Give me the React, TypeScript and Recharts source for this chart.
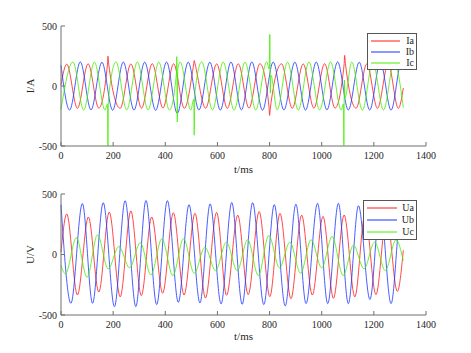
import { LineChart, Line, XAxis, YAxis, Legend } from 'recharts'

const FONT = "'Liberation Serif', 'Times New Roman', serif"
const AXIS = '#6e6e6e'
const TEXT = '#262626'

const RED = '#ff1a1a'
const BLUE = '#1a33ff'
const GREEN = '#44ee00'

// both panels share the same time axis (ms) and the same value ticks
const tTicks = [0, 200, 400, 600, 800, 1000, 1200, 1400]
const yTicks = [-500, 0, 500]

// upper panel, phase currents in A: turning points, plus the spikes
const iaT = [0, 22, 63, 104, 145, 178, 180, 183, 227, 268, 309, 350, 391, 432, 473, 509, 511, 514, 555, 597, 638, 680, 721, 763, 798, 800, 803, 846, 887, 929, 970, 1011, 1051, 1086, 1088, 1091, 1132, 1173, 1214, 1255, 1294, 1313]
const iaV = [10, 182, -186, 185, -184, 176, 248, 182, -186, 184, -185, 186, -184, 185, -186, 184, 212, 186, -185, 184, -186, 185, -184, 186, -178, -245, -184, 185, -186, 184, -185, 186, -184, 182, 255, 186, -185, 184, -186, 185, -186, -17]

const ibT = [0, 33, 74, 115, 157, 198, 239, 280, 321, 363, 405, 446, 488, 529, 571, 611, 652, 692, 732, 773, 814, 855, 897, 938, 979, 1020, 1061, 1102, 1144, 1184, 1225, 1266, 1306, 1313]
const ibV = [172, -200, 201, -199, 198, -202, 200, -201, 199, -203, 200, -228, 199, -200, 198, -201, 200, -199, 201, -202, 200, -200, 199, -201, 200, -199, 201, -200, 198, -200, 200, -201, 200, 192]

const icT = [0, 46, 87, 128, 169, 178, 180, 182, 211, 252, 293, 334, 375, 416, 443, 444, 446, 448, 457, 498, 509, 511, 513, 540, 581, 622, 664, 706, 747, 789, 799, 801, 803, 805, 829, 869, 910, 951, 992, 1034, 1075, 1083, 1085, 1087, 1089, 1115, 1156, 1196, 1237, 1278, 1313]
const icV = [-195, 201, -200, 199, -201, -150, -500, -110, 200, -199, 201, -200, 199, -201, 110, 245, -300, 140, 200, -200, -110, -410, -70, 201, -199, 200, -201, 199, -200, 201, 140, 430, -60, 90, -200, 199, -201, 200, -199, 201, -200, -150, -495, 50, -100, 200, -201, 199, -200, 201, -180]

// lower panel, phase voltages in V
const uaT = [0, 22, 63, 105, 145, 185, 227, 268, 308, 348, 390, 431, 472, 514, 554, 597, 635, 678, 718, 760, 801, 840, 882, 923, 964, 1005, 1045, 1086, 1127, 1166, 1208, 1249, 1290, 1313]
const uaV = [20, 335, -335, 310, -310, 350, -350, 360, -340, 310, -320, 345, -335, 340, -360, 348, -337, 325, -332, 355, -348, 340, -365, 325, -335, 315, -362, 326, -350, 330, -332, 320, -305, 35]

const ubT = [0, 38, 82, 121, 162, 205, 246, 287, 326, 367, 408, 450, 491, 533, 572, 614, 655, 695, 735, 778, 818, 860, 901, 940, 984, 1023, 1064, 1102, 1141, 1185, 1224, 1266, 1306, 1313]
const ubV = [410, -403, 421, -403, 428, -431, 445, -431, 447, -414, 445, -395, 412, -400, 418, -408, 430, -412, 428, -414, 412, -425, 416, -406, 423, -406, 423, -406, 403, -372, 400, -406, 395, 380]

const ucT = [0, 17, 59, 100, 140, 181, 222, 263, 304, 345, 387, 429, 470, 511, 552, 593, 634, 676, 716, 757, 797, 838, 878, 919, 959, 1000, 1040, 1082, 1122, 1162, 1203, 1244, 1285, 1313]
const ucV = [-90, -160, 138, -188, 163, -119, 66, -110, 97, -168, 130, -174, 130, -155, 61, -133, 102, -133, 122, -174, 157, -110, 102, -155, 122, -110, 149, -174, 77, -119, 102, -133, 122, -50]

const pts = (t: number[], v: number[]) => t.map((x, i) => ({ t: x, v: v[i] }))

type Series = { name: string; color: string; t: number[]; v: number[] }

function BoxLegend({ payload, rowH, lineW, gap }: any) {
  return (
    <div
      style={{
        background: '#fff',
        border: '1px solid #555',
        padding: '1px 2px 1px 3px',
        fontFamily: FONT,
        fontSize: 10,
        color: TEXT,
      }}
    >
      {(payload || []).map((p: any) => (
        <div key={p.value} style={{ display: 'flex', alignItems: 'center', height: rowH }}>
          <svg width={lineW} height={4} style={{ display: 'block' }}>
            <line x1={0} y1={2} x2={lineW} y2={2} stroke={p.color} strokeWidth={1} />
          </svg>
          <span style={{ marginLeft: gap, lineHeight: `${rowH}px` }}>{p.value}</span>
        </div>
      ))}
    </div>
  )
}

function Panel(props: {
  lines: Series[]
  yLabel: string
  height: number
  mTop: number
  mBottom: number
  labelOffset: number
  legendBox: { left: number; top: number; width: number; rowH: number; lineW: number; gap: number }
}) {
  const { lines, yLabel, height, mTop, mBottom, labelOffset, legendBox } = props
  const tickStyle = { fontSize: 10, fontFamily: FONT, fill: TEXT }
  return (
    <LineChart width={471} height={height} margin={{ top: mTop, right: 45, bottom: mBottom, left: 0 }}>
      <XAxis
        dataKey="t"
        type="number"
        domain={[0, 1400]}
        ticks={tTicks}
        height={30}
        stroke={AXIS}
        tickSize={-4}
        tickMargin={10}
        tick={tickStyle}
        label={{ value: 't/ms', position: 'insideBottom', offset: labelOffset, fontSize: 11, fontFamily: FONT, fill: TEXT }}
      />
      <XAxis xAxisId="top" orientation="top" type="number" domain={[0, 1400]} ticks={tTicks} height={0} stroke={AXIS} tickSize={-4} tick={false} />
      <YAxis
        type="number"
        domain={[-500, 500]}
        ticks={yTicks}
        width={61}
        stroke={AXIS}
        tickSize={-4}
        tickMargin={8}
        tick={tickStyle}
        label={{ value: yLabel, angle: -90, position: 'center', fontSize: 11, fontFamily: FONT, fill: TEXT }}
      />
      <YAxis yAxisId="right" orientation="right" type="number" domain={[-500, 500]} ticks={yTicks} width={0} stroke={AXIS} tickSize={-4} tick={false} />
      {lines.map((s) => (
        <Line
          key={s.name}
          data={pts(s.t, s.v)}
          dataKey="v"
          name={s.name}
          type="monotone"
          stroke={s.color}
          strokeWidth={0.8}
          dot={false}
          activeDot={false}
          isAnimationActive={false}
        />
      ))}
      <Legend
        layout="vertical"
        align="center"
        verticalAlign="middle"
        wrapperStyle={{ left: legendBox.left, top: legendBox.top, width: legendBox.width }}
        content={(p: any) => <BoxLegend payload={p.payload} rowH={legendBox.rowH} lineW={legendBox.lineW} gap={legendBox.gap} />}
      />
    </LineChart>
  )
}

export default function App() {
  const currents: Series[] = [
    { name: 'Ia', color: RED, t: iaT, v: iaV },
    { name: 'Ib', color: BLUE, t: ibT, v: ibV },
    { name: 'Ic', color: GREEN, t: icT, v: icV },
  ]
  const voltages: Series[] = [
    { name: 'Ua', color: RED, t: uaT, v: uaV },
    { name: 'Ub', color: BLUE, t: ubT, v: ubV },
    { name: 'Uc', color: GREEN, t: ucT, v: ucV },
  ]

  return (
    <div style={{ position: 'absolute', left: 0, top: 0, width: 471, height: 353, background: '#fff' }}>
      <div style={{ position: 'absolute', left: 0, top: 0 }}>
        <Panel
          lines={currents}
          yLabel="I/A"
          height={176}
          mTop={26}
          mBottom={0}
          labelOffset={3}
          legendBox={{ left: 367, top: 33, width: 50, rowH: 11, lineW: 30, gap: 6 }}
        />
      </div>
      <div style={{ position: 'absolute', left: 0, top: 176 }}>
        <Panel
          lines={voltages}
          yLabel="U/V"
          height={177}
          mTop={18}
          mBottom={8}
          labelOffset={5}
          legendBox={{ left: 363, top: 24, width: 54, rowH: 12, lineW: 31, gap: 5 }}
        />
      </div>
    </div>
  )
}
